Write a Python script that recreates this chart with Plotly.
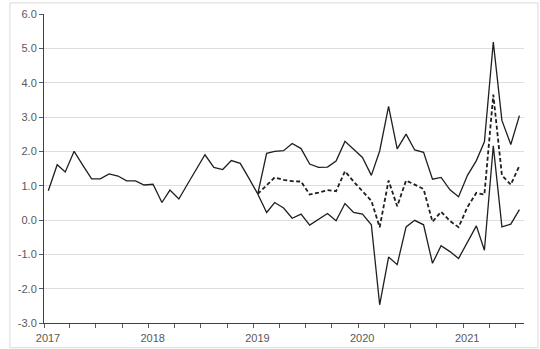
import pandas as pd
import plotly.graph_objects as go

# Monthly observations, Jan 2017 - Jan 2019
history_start = "2017-01"
history = [
    0.85, 1.61, 1.40, 2.00, 1.60, 1.20, 1.20, 1.34, 1.28, 1.14, 1.14, 1.02,
    1.04, 0.51, 0.87, 0.61, 1.04, 1.47, 1.90, 1.53, 1.47, 1.73, 1.65, 1.22,
    0.76,
]

# Central path and band, Jan 2019 - Jul 2021
band_start = "2019-01"
central = [
    0.76, 1.00, 1.24, 1.17, 1.13, 1.12, 0.74, 0.80, 0.87, 0.84, 1.42, 1.12,
    0.85, 0.56, -0.21, 1.15, 0.40, 1.15, 1.03, 0.90, -0.05, 0.24, -0.03, -0.21,
    0.38, 0.79, 0.74, 3.65, 1.30, 1.03, 1.58,
]
upper = [
    0.76, 1.94, 2.00, 2.02, 2.23, 2.08, 1.63, 1.53, 1.54, 1.72, 2.29, 2.07,
    1.82, 1.30, 2.01, 3.31, 2.07, 2.50, 2.04, 1.97, 1.19, 1.24, 0.88, 0.68,
    1.30, 1.73, 2.28, 5.18, 2.90, 2.20, 3.04,
]
lower = [
    0.76, 0.22, 0.51, 0.35, 0.05, 0.17, -0.15, 0.03, 0.19, -0.02, 0.48, 0.22,
    0.17, -0.14, -2.47, -1.08, -1.30, -0.20, -0.01, -0.14, -1.26, -0.75, -0.92, -1.12,
    -0.65, -0.17, -0.88, 2.16, -0.20, -0.12, 0.30,
]

y_ticks = [-3, -2, -1, 0, 1, 2, 3, 4, 5, 6]


def mid_month(start, n):
    return pd.date_range(start=start + "-01", periods=n, freq="MS") + pd.Timedelta(days=15)


x_hist = mid_month(history_start, len(history))
x_band = mid_month(band_start, len(central))

ink = "#1f1f1f"
axis_grey = "#595959"

fig = go.Figure()
fig.add_trace(go.Scatter(x=x_hist, y=history, mode="lines",
                         line=dict(color=ink, width=1.3), showlegend=False))
fig.add_trace(go.Scatter(x=x_band, y=upper, mode="lines",
                         line=dict(color=ink, width=1.3), showlegend=False))
fig.add_trace(go.Scatter(x=x_band, y=lower, mode="lines",
                         line=dict(color=ink, width=1.3), showlegend=False))
fig.add_trace(go.Scatter(x=x_band, y=central, mode="lines",
                         line=dict(color=ink, width=1.8, dash="4px,2.5px"),
                         showlegend=False))

# quarterly tick marks, year labels on January
quarters = pd.date_range("2017-01-01", "2021-07-01", freq="QS")
qtext = [str(d.year) if d.month == 1 else "" for d in quarters]

fig.update_layout(
    width=540, height=349,
    margin=dict(l=44, r=16, t=14, b=26),
    paper_bgcolor="white", plot_bgcolor="white",
    font=dict(family="Liberation Sans, Arial, sans-serif", size=11, color=axis_grey),
    xaxis=dict(
        type="date",
        range=["2017-01-01", "2021-08-01"],
        tickvals=list(quarters), ticktext=qtext,
        ticks="outside", ticklen=4, tickwidth=1, tickcolor=axis_grey,
        ticklabelshift=4, ticklabelstandoff=1,
        automargin=False,
        showgrid=False, zeroline=False,
        showline=True, linecolor="#404040", linewidth=1,
    ),
    yaxis=dict(
        range=[-3, 6],
        tickvals=y_ticks, ticktext=[f"{v:.1f}" for v in y_ticks],
        ticks="outside", ticklen=4, tickwidth=1, tickcolor=axis_grey,
        automargin=False,
        showgrid=True, gridcolor="#dedede", gridwidth=1,
        zeroline=False,
        showline=True, linecolor="#404040", linewidth=1,
    ),
    shapes=[dict(type="rect", xref="paper", yref="paper",
                 x0=-0.071, x1=1.029, y0=-0.08, y1=1.036,
                 line=dict(color="#d9d9d9", width=1), layer="below")],
)

fig.write_html("out.html")
